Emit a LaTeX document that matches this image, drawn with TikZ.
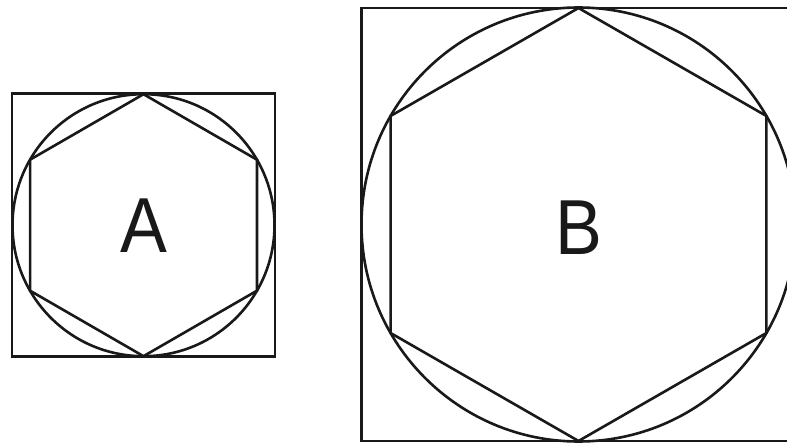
\documentclass[tikz,border=0pt]{standalone}
\usepackage{fontspec}
\setmainfont{Liberation Sans}
\usetikzlibrary{calc}
\begin{document}
\begin{tikzpicture}[x=1pt,y=1pt,line width=2.6pt,
  shape line/.style={draw=black!90,line join=miter},
  biglabel/.style={font=\fontsize{78}{80}\selectfont,text=black!90,inner sep=0pt,xscale=0.9}]
\useasboundingbox (0,0) rectangle (787,445);
\clip (0,0) rectangle (787,445);
% A
\coordinate (ca) at (143.5,219.8);
\draw[shape line] ($(ca)+(-131.5,-131.5)$) rectangle ($(ca)+(131.5,131.5)$);
\draw[shape line] (ca) circle (131);
\draw[shape line] ($(ca)+(90:131)$) -- ($(ca)+(150:131)$) -- ($(ca)+(210:131)$) -- ($(ca)+(270:131)$) -- ($(ca)+(330:131)$) -- ($(ca)+(30:131)$) -- cycle;
\node[biglabel] (la) at (ca) {A};
% B
\coordinate (cb) at (578.5,220.5);
\draw[shape line] ($(cb)+(-217,-216.5)$) rectangle ($(cb)+(217,216.5)$);
\draw[shape line] (cb) circle (217);
\draw[shape line] ($(cb)+(90:216.5)$) -- ($(cb)+(150:217)$) -- ($(cb)+(210:217)$) -- ($(cb)+(270:216.5)$) -- ($(cb)+(330:217)$) -- ($(cb)+(30:217)$) -- cycle;
\node[biglabel] (lb) at ($(cb)+(0,-3)$) {B};
\end{tikzpicture}
\end{document}
